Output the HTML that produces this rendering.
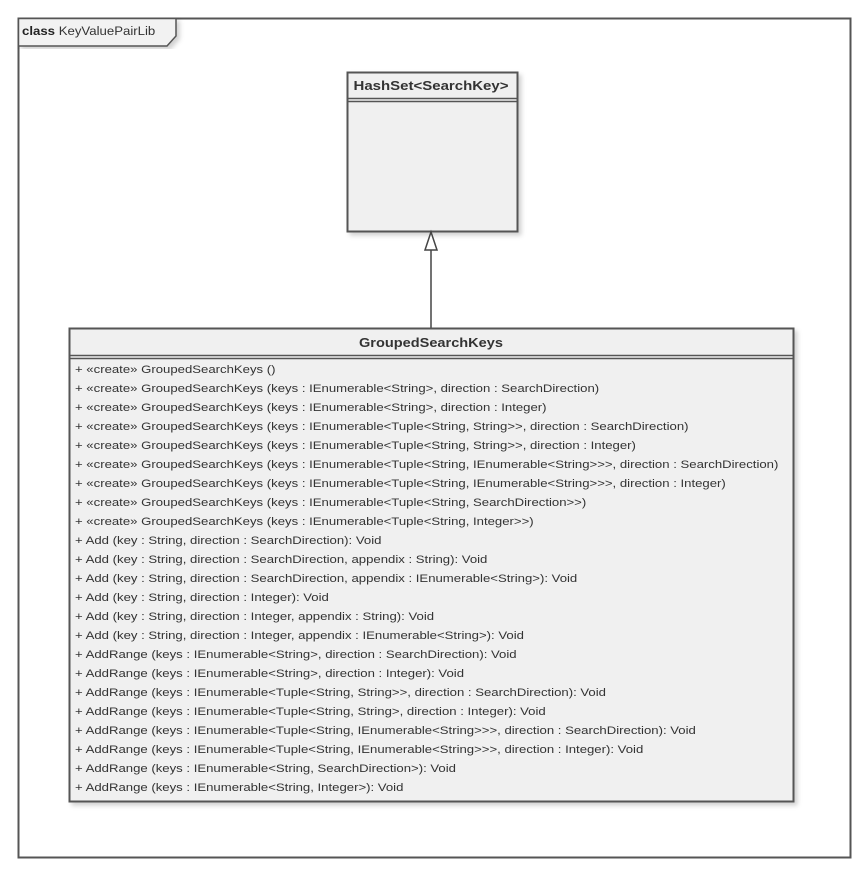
<!DOCTYPE html>
<html><head><meta charset="utf-8"><style>
html,body{margin:0;padding:0;background:#fff;}
svg{display:block;}
text{font-family:"Liberation Sans",sans-serif;fill:#333;}
</style></head><body>
<svg width="868" height="879" viewBox="0 0 868 879" xmlns="http://www.w3.org/2000/svg">
<defs>
<filter id="sh" x="-5%" y="-5%" width="115%" height="115%"><feDropShadow dx="3" dy="3" stdDeviation="2.5" flood-color="#000" flood-opacity="0.18"/></filter>
</defs>
<rect x="18.5" y="18.5" width="832" height="839" fill="#fff" stroke="#555" stroke-width="2"/>
<path d="M18.5 18.5 H176 V36 L167 46 H18.5 Z" fill="#f2f2f2" stroke="#555" stroke-width="1.5" filter="url(#sh)"/>
<g transform="translate(22,0) scale(1.1,1) translate(-22,0)">
<text x="22" y="35" font-size="12"><tspan font-weight="bold" fill="#222">class</tspan> KeyValuePairLib</text>
</g>

<rect x="347.5" y="72.5" width="170" height="159" fill="#f0f0f0" stroke="#555" stroke-width="2" filter="url(#sh)"/>
<line x1="347.5" y1="98.5" x2="517.5" y2="98.5" stroke="#555" stroke-width="1.5"/>
<line x1="347.5" y1="101.5" x2="517.5" y2="101.5" stroke="#555" stroke-width="1.5"/>
<g transform="translate(431,0) scale(1.2,1) translate(-431,0)">
<text x="431" y="90" font-size="12.5" font-weight="bold" text-anchor="middle" fill="#444">HashSet&lt;SearchKey&gt;</text>
</g>

<line x1="431" y1="250" x2="431" y2="328" stroke="#444" stroke-width="1.5"/>
<path d="M431 232 L425 250 H437 Z" fill="#fff" stroke="#444" stroke-width="1.5"/>

<rect x="69.5" y="328.5" width="724" height="473" fill="#f0f0f0" stroke="#555" stroke-width="2" filter="url(#sh)"/>
<line x1="69.5" y1="355.5" x2="793.5" y2="355.5" stroke="#555" stroke-width="1.5"/>
<line x1="69.5" y1="358.5" x2="793.5" y2="358.5" stroke="#555" stroke-width="1.5"/>
<g transform="translate(431,0) scale(1.12,1) translate(-431,0)">
<text x="431" y="347" font-size="13" font-weight="bold" text-anchor="middle" fill="#444">GroupedSearchKeys</text>
</g>
<g font-size="11.2" fill="#444" transform="translate(75,0) scale(1.175,1) translate(-75,0)">
<text x="75" y="373">+ «create» GroupedSearchKeys ()</text>
<text x="75" y="392">+ «create» GroupedSearchKeys (keys : IEnumerable&lt;String&gt;, direction : SearchDirection)</text>
<text x="75" y="411">+ «create» GroupedSearchKeys (keys : IEnumerable&lt;String&gt;, direction : Integer)</text>
<text x="75" y="430">+ «create» GroupedSearchKeys (keys : IEnumerable&lt;Tuple&lt;String, String&gt;&gt;, direction : SearchDirection)</text>
<text x="75" y="449">+ «create» GroupedSearchKeys (keys : IEnumerable&lt;Tuple&lt;String, String&gt;&gt;, direction : Integer)</text>
<text x="75" y="468">+ «create» GroupedSearchKeys (keys : IEnumerable&lt;Tuple&lt;String, IEnumerable&lt;String&gt;&gt;&gt;, direction : SearchDirection)</text>
<text x="75" y="487">+ «create» GroupedSearchKeys (keys : IEnumerable&lt;Tuple&lt;String, IEnumerable&lt;String&gt;&gt;&gt;, direction : Integer)</text>
<text x="75" y="506">+ «create» GroupedSearchKeys (keys : IEnumerable&lt;Tuple&lt;String, SearchDirection&gt;&gt;)</text>
<text x="75" y="525">+ «create» GroupedSearchKeys (keys : IEnumerable&lt;Tuple&lt;String, Integer&gt;&gt;)</text>
<text x="75" y="544">+ Add (key : String, direction : SearchDirection): Void</text>
<text x="75" y="563">+ Add (key : String, direction : SearchDirection, appendix : String): Void</text>
<text x="75" y="582">+ Add (key : String, direction : SearchDirection, appendix : IEnumerable&lt;String&gt;): Void</text>
<text x="75" y="601">+ Add (key : String, direction : Integer): Void</text>
<text x="75" y="620">+ Add (key : String, direction : Integer, appendix : String): Void</text>
<text x="75" y="639">+ Add (key : String, direction : Integer, appendix : IEnumerable&lt;String&gt;): Void</text>
<text x="75" y="658">+ AddRange (keys : IEnumerable&lt;String&gt;, direction : SearchDirection): Void</text>
<text x="75" y="677">+ AddRange (keys : IEnumerable&lt;String&gt;, direction : Integer): Void</text>
<text x="75" y="696">+ AddRange (keys : IEnumerable&lt;Tuple&lt;String, String&gt;&gt;, direction : SearchDirection): Void</text>
<text x="75" y="715">+ AddRange (keys : IEnumerable&lt;Tuple&lt;String, String&gt;, direction : Integer): Void</text>
<text x="75" y="734">+ AddRange (keys : IEnumerable&lt;Tuple&lt;String, IEnumerable&lt;String&gt;&gt;&gt;, direction : SearchDirection): Void</text>
<text x="75" y="753">+ AddRange (keys : IEnumerable&lt;Tuple&lt;String, IEnumerable&lt;String&gt;&gt;&gt;, direction : Integer): Void</text>
<text x="75" y="772">+ AddRange (keys : IEnumerable&lt;String, SearchDirection&gt;): Void</text>
<text x="75" y="791">+ AddRange (keys : IEnumerable&lt;String, Integer&gt;): Void</text>
</g>
</svg>
</body></html>
